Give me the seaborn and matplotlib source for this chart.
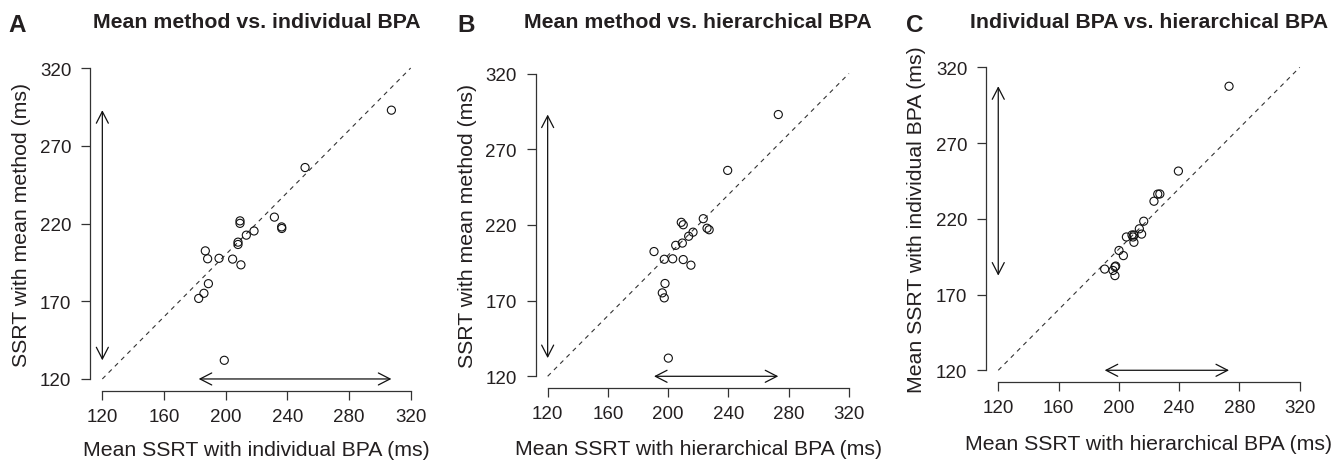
import matplotlib
matplotlib.use("Agg")
import matplotlib.pyplot as plt
import seaborn as sns
import pandas as pd

# ---- data (ms), one value per participant ----
individual_bpa = [307.5, 251.5, 231.6, 236.3, 236.4, 209.3, 209.3, 218.4, 213.4, 208.0,
                  208.0, 186.8, 188.3, 195.7, 204.5, 209.9, 188.8, 185.9, 182.5, 199.1]
hierarchical_bpa = [273.1, 239.5, 223.3, 225.8, 227.2, 208.7, 210.0, 216.5, 213.6, 209.4,
                    205.0, 190.6, 197.4, 203.0, 210.0, 215.1, 197.9, 196.1, 197.4, 200.1]
mean_method = [292.9, 256.0, 224.1, 217.8, 216.8, 221.7, 220.1, 215.2, 212.5, 208.0,
               206.5, 202.4, 197.3, 197.6, 197.1, 193.4, 181.3, 175.1, 171.8, 132.0]

x_ticks = [120, 160, 200, 240, 280, 320]
y_ticks = [120, 170, 220, 270, 320]
axis_range = [120, 320]

panel_letters = ["A", "B", "C"]
panel_titles = ["Mean method vs. individual BPA",
                "Mean method vs. hierarchical BPA",
                "Individual BPA vs. hierarchical BPA"]
x_labels = ["Mean SSRT with individual BPA (ms)",
            "Mean SSRT with hierarchical BPA (ms)",
            "Mean SSRT with hierarchical BPA (ms)"]
y_labels = ["SSRT with mean method (ms)",
            "SSRT with mean method (ms)",
            "Mean SSRT with individual BPA (ms)"]

df = pd.DataFrame({"individual": individual_bpa,
                   "hierarchical": hierarchical_bpa,
                   "mean": mean_method})
pairs = [("individual", "mean"), ("hierarchical", "mean"), ("hierarchical", "individual")]

sns.set_theme(style="ticks")
plt.rcParams["font.family"] = ["Liberation Sans", "DejaVu Sans"]
TXT = "#231f20"
LINE = "#333333"

W, H = 1342, 464
fig = plt.figure(figsize=(W / 100, H / 100), dpi=100)

# axes boxes in pixels: left, top, right, bottom
boxes = [(90, 56.6, 423, 392.4), (535.6, 62.4, 861, 389.4), (986.2, 56.2, 1311.8, 383.4)]
ylabel_x = [22, 467.5, 916]
letter_x = [8, 457, 906]
title_y = 22
xlabel_y = [451, 450, 445]

pad = 0.04 * (axis_range[1] - axis_range[0])

for i, ((xc, yc), box) in enumerate(zip(pairs, boxes)):
    l, t, r, b = box
    ax = fig.add_axes([l / W, 1 - b / H, (r - l) / W, (b - t) / H])
    xs, ys = df[xc], df[yc]

    ax.plot(axis_range, axis_range, color=LINE, lw=0.8, linestyle=(0, (4, 4)), zorder=1)
    sns.scatterplot(data=df, x=xc, y=yc, ax=ax, s=34, facecolor="none",
                    edgecolor="#111111", linewidth=0.8, zorder=3, legend=False)

    arrow = dict(arrowstyle="<->,head_length=0.7,head_width=0.36", color="#111111",
                 lw=0.9, shrinkA=0, shrinkB=0, mutation_scale=12)
    ax.annotate("", xy=(axis_range[0], ys.max()), xytext=(axis_range[0], ys.min()),
                arrowprops=arrow)
    ax.annotate("", xy=(xs.max(), axis_range[0]), xytext=(xs.min(), axis_range[0]),
                arrowprops=arrow)

    ax.set_xlim(axis_range[0] - pad, axis_range[1] + pad)
    ax.set_ylim(axis_range[0] - pad, axis_range[1] + pad)
    ax.set_xticks(x_ticks)
    ax.set_yticks(y_ticks)
    sns.despine(ax=ax)
    for side in ("left", "bottom"):
        ax.spines[side].set_bounds(axis_range[0], axis_range[1])
        ax.spines[side].set_color(LINE)
        ax.spines[side].set_linewidth(0.9)
    ax.tick_params(axis="both", length=6.5, width=0.9, color=LINE,
                   labelsize=13.5, labelcolor=TXT)
    ax.tick_params(axis="x", pad=5.5)
    ax.tick_params(axis="y", pad=7)
    ax.set_facecolor("none")

    ax.set_xlabel("")
    ax.set_ylabel("")
    cx = (l + r) / 2
    fig.text(cx / W, 1 - xlabel_y[i] / H, x_labels[i], ha="center", va="center",
             fontsize=15.3, color=TXT)
    fig.text(ylabel_x[i] / W, 1 - ((t + b) / 2) / H, y_labels[i], ha="center",
             va="center", rotation=90, fontsize=15.3, color=TXT)
    fig.text(cx / W, 1 - title_y / H, panel_titles[i], ha="center", va="center",
             fontsize=15.3, fontweight="bold", color=TXT)
    fig.text(letter_x[i] / W, 1 - 25 / H, panel_letters[i], ha="left", va="center",
             fontsize=17.5, fontweight="bold", color=TXT)

fig.savefig("out.png", dpi=100, facecolor="white")
